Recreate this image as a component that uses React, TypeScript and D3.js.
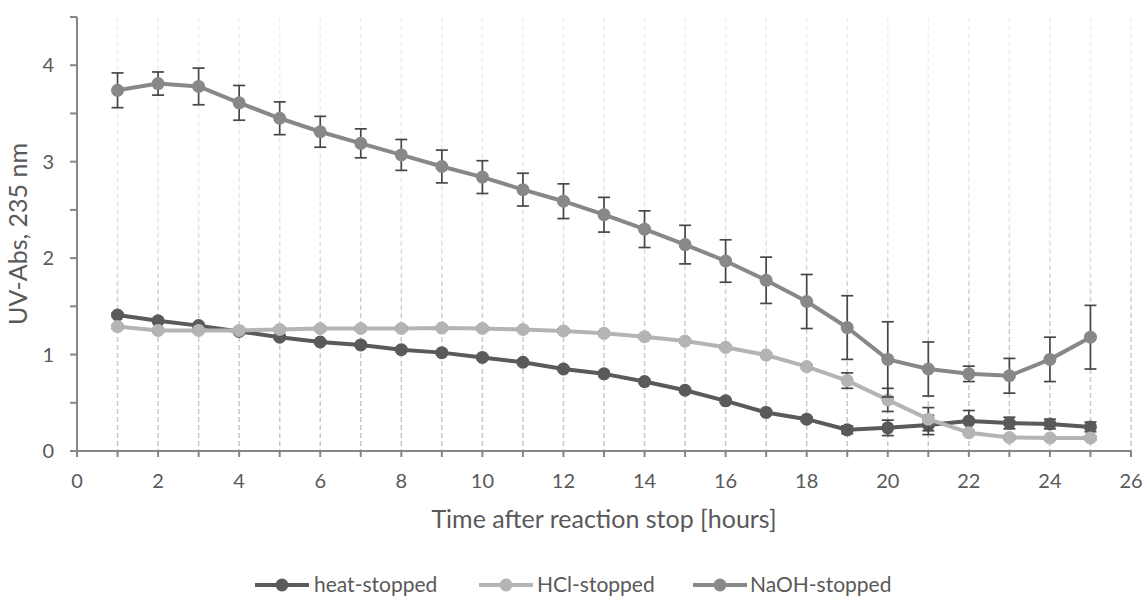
import React from "react";
import * as d3 from "d3";

const hours = [1,2,3,4,5,6,7,8,9,10,11,12,13,14,15,16,17,18,19,20,21,22,23,24,25];
const heat = [1.41,1.35,1.30,1.24,1.18,1.13,1.10,1.05,1.02,0.97,0.92,0.85,0.80,0.72,0.63,0.52,0.40,0.33,0.22,0.24,0.27,0.31,0.29,0.28,0.25];
const heatErr = [0.02,0.02,0.02,0.02,0.02,0.02,0.02,0.02,0.02,0.02,0.02,0.02,0.02,0.02,0.02,0.02,0.02,0.02,0.04,0.08,0.1,0.11,0.06,0.05,0.05];
const hcl = [1.29,1.25,1.25,1.25,1.26,1.27,1.27,1.27,1.275,1.27,1.26,1.245,1.22,1.185,1.14,1.075,0.995,0.875,0.73,0.53,0.33,0.19,0.14,0.135,0.135];
const hclErr = [0.02,0.02,0.02,0.02,0.02,0.02,0.02,0.02,0.02,0.02,0.02,0.02,0.02,0.02,0.02,0.02,0.02,0.02,0.08,0.12,0.12,0.02,0.02,0.02,0.02];
const naoh = [3.74,3.81,3.78,3.61,3.45,3.31,3.19,3.07,2.95,2.84,2.71,2.59,2.45,2.30,2.14,1.97,1.77,1.55,1.28,0.95,0.85,0.80,0.78,0.95,1.18];
const naohErr = [0.18,0.12,0.19,0.18,0.17,0.16,0.15,0.16,0.17,0.17,0.17,0.18,0.18,0.19,0.20,0.22,0.24,0.28,0.33,0.39,0.28,0.08,0.18,0.23,0.33];

const seriesNames = ["heat-stopped", "HCl-stopped", "NaOH-stopped"];
const seriesColors = ["#5a5a5a", "#b4b4b4", "#888888"];
const seriesValues = [heat, hcl, naoh];
const seriesErrors = [heatErr, hclErr, naohErr];

const xTicks = [0,2,4,6,8,10,12,14,16,18,20,22,24,26];
const yTicks = [0,1,2,3,4];
const yMinorTicks = [0,0.5,1,1.5,2,2.5,3,3.5,4,4.5];

const W = 1146, H = 601;
const FONT = "Lato, 'Open Sans', sans-serif";
const TEXT = "#595959";

export default function App() {
  const x = d3.scaleLinear().domain([0, 26]).range([77, 1131]);
  const y = d3.scaleLinear().domain([0, 4.5]).range([451, 17]);
  const line = d3.line<number>().x((_, i) => x(hours[i])).y((d) => y(d));
  const gridX = d3.range(1, 27);

  const legendItems = [
    { lx: 255, tx: 314 },
    { lx: 479, tx: 537 },
    { lx: 693, tx: 750 },
  ];
  const legY = 585;

  return (
    <svg width={W} height={H} style={{ position: "absolute", left: 0, top: 0 }}>
      <defs>
        <linearGradient id="gridGrad" gradientUnits="userSpaceOnUse" x1="0" y1="17" x2="0" y2="451">
          <stop offset="0" stopColor="#eef1f6" />
          <stop offset="0.45" stopColor="#e4e6ea" />
          <stop offset="0.7" stopColor="#cdcdcd" />
          <stop offset="1" stopColor="#c4c4c4" />
        </linearGradient>
      </defs>
      <rect width={W} height={H} fill="#fff" />
      {gridX.map((g) => (
        <line key={g} x1={x(g)} x2={x(g)} y1={y(4.5)} y2={y(0)} stroke="url(#gridGrad)" strokeWidth={1.5} strokeDasharray="5,3" />
      ))}
      <line x1={x(0)} x2={x(0)} y1={y(4.5)} y2={y(0)} stroke="#868686" strokeWidth={2} />
      <line x1={x(0)} x2={x(26)} y1={y(0)} y2={y(0)} stroke="#868686" strokeWidth={2} />
      {yMinorTicks.map((t) => (
        <line key={t} x1={x(0) - 7} x2={x(0)} y1={y(t)} y2={y(t)} stroke="#868686" strokeWidth={2} />
      ))}
      {d3.range(0, 27).map((t) => (
        <line key={t} x1={x(t)} x2={x(t)} y1={y(0)} y2={y(0) + 6} stroke="#868686" strokeWidth={2} />
      ))}
      {yTicks.map((t) => (
        <text key={t} x={54} y={y(t)} dy="0.35em" textAnchor="end" fontFamily={FONT} fontSize={20} fill={TEXT}>{t}</text>
      ))}
      {xTicks.map((t) => (
        <text key={t} x={x(t)} y={481} dy="0.35em" textAnchor="middle" fontFamily={FONT} fontSize={20} fill={TEXT}>{t}</text>
      ))}
      <text x={(x(0) + x(26)) / 2} y={519} dy="0.35em" textAnchor="middle" fontFamily={FONT} fontSize={25} fill={TEXT}>Time after reaction stop [hours]</text>
      <text transform={`translate(18,${(y(0) + y(4.5)) / 2}) rotate(-90)`} dy="0.35em" textAnchor="middle" fontFamily={FONT} fontSize={25} fill={TEXT}>UV-Abs, 235 nm</text>

      {seriesValues.map((vals, s) => (
        <g key={s}>
          <path d={line(vals) || ""} fill="none" stroke={seriesColors[s]} strokeWidth={4} strokeLinejoin="round" />
          {vals.map((v, i) => {
            const e = seriesErrors[s][i];
            const cx = x(hours[i]);
            return (
              <g key={i} stroke="#474747" strokeWidth={1.7}>
                <line x1={cx} x2={cx} y1={y(v + e)} y2={y(v - e)} />
                <line x1={cx - 6} x2={cx + 6} y1={y(v + e)} y2={y(v + e)} />
                <line x1={cx - 6} x2={cx + 6} y1={y(v - e)} y2={y(v - e)} />
              </g>
            );
          })}
          {vals.map((v, i) => (
            <circle key={i} cx={x(hours[i])} cy={y(v)} r={6.5} fill={seriesColors[s]} />
          ))}
        </g>
      ))}

      {legendItems.map((it, s) => (
        <g key={s}>
          <line x1={it.lx} x2={it.lx + 54} y1={legY} y2={legY} stroke={seriesColors[s]} strokeWidth={4} />
          <circle cx={it.lx + 27} cy={legY} r={6.5} fill={seriesColors[s]} />
          <text x={it.tx} y={legY} dy="0.35em" fontFamily={FONT} fontSize={21} fill={TEXT}>{seriesNames[s]}</text>
        </g>
      ))}
    </svg>
  );
}
